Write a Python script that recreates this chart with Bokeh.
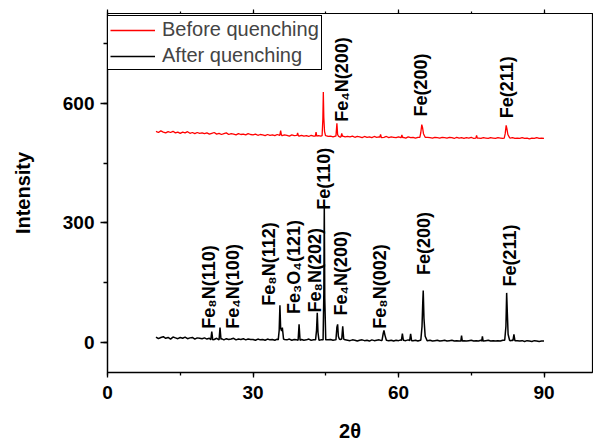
import numpy as np
from bokeh.plotting import figure
from bokeh.models import (Range1d, LinearAxis, SingleIntervalTicker, Legend,
                          LegendItem, ColumnDataSource)
from bokeh.core.properties import value
from bokeh.embed import file_html
from bokeh.resources import INLINE

# ---------------- data ----------------
grid_start, grid_step = 10.0, 0.5   # 2-theta sampling of the background

after_base = [
    13, 9, 12, 14, 10, 12, 8, 13, 11, 9, 12, 10, 13, 9, 11, 12, 8, 11, 10, 9,
    11, 8, 10, 9, 7, 10, 8, 9, 6, 9, 7, 8, 10, 6, 8, 7, 9, 6, 8, 7,
    7, 5, 8, 6, 7, 5, 8, 6, 7, 5, 8, 6, 5, 7, 6, 8, 5, 7, 6, 5,
    7, 5, 6, 8, 5, 6, 7, 5, 6, 8, 5, 6, 7, 5, 6, 5, 7, 5, 6, 5,
    4, 6, 5, 3, 5, 6, 4, 5, 3, 6, 4, 5, 6, 4, 5, 6, 4, 5, 3, 5,
    4, 6, 5, 4, 6, 5, 4, 5, 3, 5, 4, 6, 4, 5, 3, 4, 5, 3, 4, 5,
    3, 4, 5, 3, 4, 3, 5, 4, 3, 4, 5, 3, 4, 3, 5, 3, 4, 5, 3, 4,
    3, 4, 3, 5, 4, 3, 4, 5, 3, 4, 3, 4, 2, 4, 3, 2, 4, 3, 2, 3,
    3]

before_base = [
    530, 527, 531, 528, 526, 529, 527, 530, 526, 528, 525, 528, 526, 529, 525, 527, 524, 527, 525, 526,
    524, 526, 523, 525, 527, 523, 525, 522, 524, 526, 522, 524, 523, 521, 524, 522, 523, 521, 524, 522,
    521, 523, 520, 522, 521, 519, 522, 520, 521, 519, 522, 520, 519, 521, 520, 518, 521, 519, 520, 518,
    520, 518, 519, 517, 520, 518, 517, 519, 518, 516, 519, 517, 518, 516, 518, 517, 515, 518, 516, 517,
    516, 518, 515, 517, 516, 514, 517, 515, 516, 514, 517, 515, 516, 514, 515, 517, 514, 516, 515, 514,
    516, 514, 515, 513, 516, 514, 515, 513, 515, 514, 516, 513, 515, 514, 513, 515, 514, 513, 515, 514,
    513, 515, 514, 512, 515, 513, 514, 512, 514, 513, 515, 512, 514, 513, 512, 514, 513, 512, 514, 513,
    512, 514, 513, 512, 514, 512, 513, 514, 512, 513, 512, 514, 512, 513, 511, 513, 512, 514, 512, 513,
    512]

after_peaks = [
    [(21.3, 6), (21.5, 27), (21.7, 6)],
    [(23.0, 6), (23.2, 37), (23.4, 7)],
    [(35.2, 6), (35.4, 30), (35.55, 93), (35.7, 35), (35.9, 28), (36.05, 37), (36.3, 8)],
    [(39.3, 5), (39.5, 45), (39.7, 5)],
    [(42.9, 6), (43.1, 30), (43.25, 74), (43.4, 25), (43.6, 5)],
    [(44.45, 6), (44.6, 120), (44.7, 345), (44.8, 110), (45.0, 6)],
    [(47.1, 6), (47.3, 38), (47.45, 45), (47.6, 15), (47.8, 8)],
    [(48.3, 8), (48.5, 40), (48.7, 8)],
    [(56.6, 5), (56.85, 22), (57.0, 30), (57.2, 18), (57.5, 5)],
    [(60.6, 4), (60.8, 22), (61.0, 5)],
    [(62.3, 4), (62.5, 21), (62.7, 4)],
    [(64.6, 5), (64.85, 40), (65.0, 100), (65.1, 130), (65.25, 60), (65.5, 15), (65.9, 4)],
    [(72.85, 3), (73.0, 17), (73.15, 3)],
    [(77.15, 3), (77.3, 15), (77.45, 3)],
    [(81.9, 5), (82.15, 40), (82.3, 124), (82.45, 70), (82.6, 20), (82.9, 5)],
    [(83.6, 4), (83.8, 20), (84.0, 4)],
]

before_peaks = [
    [(35.55, 521), (35.7, 532), (35.85, 521)],
    [(39.05, 519), (39.2, 526), (39.35, 519)],
    [(42.85, 518), (43.0, 528), (43.15, 518)],
    [(44.25, 519), (44.4, 560), (44.5, 629), (44.6, 565), (44.75, 530), (44.95, 519)],
    [(47.1, 518), (47.3, 550), (47.45, 522), (47.6, 518)],
    [(48.15, 517), (48.3, 525), (48.45, 517)],
    [(56.15, 515), (56.3, 522), (56.45, 515)],
    [(60.55, 514), (60.7, 521), (60.85, 514)],
    [(64.4, 515), (64.6, 527), (64.8, 547), (64.95, 540), (65.15, 524), (65.5, 515)],
    [(75.95, 513), (76.1, 520), (76.25, 513)],
    [(81.8, 513), (82.0, 524), (82.2, 545), (82.35, 537), (82.55, 522), (82.9, 514)],
]

after_labels = ["Fe\u2088N(110)", "Fe\u2084N(100)", "Fe\u2088N(112)", "Fe\u2083O\u2084(121)",
                "Fe\u2088N(202)", "Fe(110)", "Fe\u2084N(200)", "Fe\u2088N(002)", "Fe(200)", "Fe(211)"]
after_label_x = [20.9, 25.9, 33.3, 38.4, 42.7, 44.6, 48.2, 56.2, 65.3, 82.9]
after_label_y = [34, 34, 92, 71, 75, 333, 67, 34, 169, 140]

before_labels = ["Fe\u2084N(200)", "Fe(200)", "Fe(211)"]
before_label_x = [48.4, 64.7, 82.4]
before_label_y = [554, 567, 563]

series_names = ["Before quenching", "After quenching"]
x_ticks_interval = 30
y_ticks_interval = 300


def build_trace(base, peaks):
    xs = [grid_start + i * grid_step for i in range(len(base))]
    pts = []
    for x, y in zip(xs, base):
        if not any(pk[0][0] <= x <= pk[-1][0] for pk in peaks):
            pts.append((x, y))
    for pk in peaks:
        pts.extend(pk)
    pts.sort()
    return [p[0] for p in pts], [p[1] for p in pts]


xa, ya = build_trace(after_base, after_peaks)
xb, yb = build_trace(before_base, before_peaks)

FONT = "Liberation Sans"

p = figure(width=593, height=444, x_range=Range1d(0, 100), y_range=Range1d(-76, 826),
           output_backend="svg", toolbar_location=None,
           min_border_left=107, min_border_right=1, min_border_top=13, min_border_bottom=70)
p.xgrid.visible = False
p.ygrid.visible = False
p.outline_line_color = "black"
p.outline_line_width = 1.2
p.outline_line_alpha = 1
p.background_fill_color = "white"
p.border_fill_color = "white"

rb = p.line(xb, yb, line_color="#ff0000", line_width=1.3)
ra = p.line(xa, ya, line_color="black", line_width=1.5)

for ax in (p.xaxis[0], p.yaxis[0]):
    ax.axis_line_color = "black"
    ax.axis_line_width = 1.3
    ax.major_tick_line_color = "black"
    ax.minor_tick_line_color = "black"
    ax.major_tick_line_width = 1.3
    ax.minor_tick_line_width = 1.3
    ax.major_tick_in = 0
    ax.minor_tick_in = 0
    ax.major_label_text_font = FONT
    ax.major_label_text_font_style = "bold"
    ax.major_label_text_font_size = "19px"
    ax.major_label_text_color = "black"
    ax.axis_label_text_font = FONT
    ax.axis_label_text_font_style = "bold"
    ax.axis_label_text_font_size = "20px"
    ax.axis_label_text_color = "black"

p.xaxis.ticker = SingleIntervalTicker(interval=x_ticks_interval, num_minor_ticks=2)
p.yaxis.ticker = SingleIntervalTicker(interval=y_ticks_interval, num_minor_ticks=2)
p.xaxis.major_tick_out = 5
p.xaxis.minor_tick_out = 3
p.xaxis.major_label_standoff = 8
p.xaxis.axis_label = "2\u03b8"
p.xaxis.axis_label_standoff = 18
p.yaxis.major_tick_out = 7
p.yaxis.minor_tick_out = 4
p.yaxis.major_label_standoff = 6
p.yaxis.axis_label = "Intensity"
p.yaxis.axis_label_standoff = 26

top = LinearAxis(ticker=SingleIntervalTicker(interval=x_ticks_interval, num_minor_ticks=2),
                 major_label_text_font_size="1px", major_label_text_color=None,
                 major_label_standoff=0,
                 major_tick_in=0, major_tick_out=4, minor_tick_in=0, minor_tick_out=2,
                 axis_line_color="black", axis_line_width=1.2,
                 major_tick_line_width=1.2, minor_tick_line_width=1.2)
p.add_layout(top, "above")

src_a = ColumnDataSource(dict(x=after_label_x, y=after_label_y, t=after_labels))
src_b = ColumnDataSource(dict(x=before_label_x, y=before_label_y, t=before_labels))
for src in (src_a, src_b):
    p.text(x="x", y="y", text="t", source=src, angle=np.pi / 2,
           text_font=value(FONT), text_font_style="bold", text_font_size="18px",
           text_color="black", text_align="left", text_baseline="middle")

legend = Legend(items=[LegendItem(label=series_names[0], renderers=[rb]),
                       LegendItem(label=series_names[1], renderers=[ra])],
                location=(0, 302), margin=0, padding=2, spacing=3,
                glyph_width=45, glyph_height=20, label_height=20, label_standoff=7,
                label_text_font=FONT, label_text_font_size="20px",
                border_line_color="black", border_line_width=1, border_line_alpha=1,
                background_fill_color="white", background_fill_alpha=1)
p.add_layout(legend, "center")

open("out.html", "w").write(file_html(p, INLINE))
